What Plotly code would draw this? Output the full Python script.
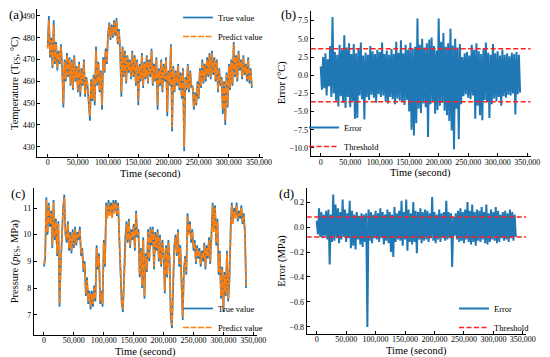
import plotly.graph_objects as go

# ---------------- data ----------------
time_s = [i * 2000 for i in range(170)]

temp_true = [
    476, 490, 471, 480, 466, 488, 468, 478, 465, 474,
    468, 477, 466, 448, 470, 460, 473, 462, 471, 458,
    470, 456, 472, 460, 467, 455, 469, 453, 466, 458,
    470, 453, 462, 458, 450, 442, 461, 451, 463, 449,
    476, 458, 469, 455, 465, 447, 471, 464, 475, 468,
    482, 487, 479, 486, 480, 488, 481, 489, 477, 484,
    474, 453, 476, 462, 474, 459, 472, 464, 470, 461,
    474, 462, 472, 458, 470, 449, 468, 460, 473, 457,
    469, 461, 472, 459, 470, 462, 475, 458, 468, 460,
    471, 447, 466, 458, 470, 455, 468, 460, 471, 444,
    465, 458, 477, 437, 467, 455, 465, 458, 468, 456,
    464, 452, 466, 428, 462, 456, 468, 455, 465, 457,
    458, 447, 455, 449, 460, 452, 466, 457, 470, 459,
    468, 460, 471, 462, 473, 461, 474, 463, 471, 460,
    470, 455, 466, 458, 462, 445, 460, 440, 464, 448,
    468, 456, 470, 458, 478, 462, 472, 460, 474, 465,
    470, 461, 472, 463, 468, 460, 471, 459, 466, 457,
]
temp_pred = [
    475, 488, 472, 479, 467, 486, 469, 477, 466, 473,
    469, 476, 467, 450, 469, 461, 472, 463, 470, 459,
    469, 457, 471, 461, 466, 456, 468, 455, 465, 459,
    469, 454, 461, 459, 451, 444, 460, 452, 462, 451,
    474, 459, 468, 456, 464, 449, 470, 465, 474, 469,
    481, 486, 480, 485, 481, 487, 482, 488, 478, 483,
    475, 455, 475, 463, 473, 460, 471, 465, 469, 462,
    473, 463, 471, 459, 469, 451, 467, 461, 472, 458,
    468, 462, 471, 460, 469, 463, 474, 459, 467, 461,
    470, 449, 465, 459, 469, 456, 467, 461, 470, 446,
    464, 459, 476, 439, 466, 456, 464, 459, 467, 457,
    463, 453, 465, 430, 461, 457, 467, 456, 464, 458,
    457, 448, 454, 450, 459, 453, 465, 458, 469, 460,
    467, 461, 470, 463, 472, 462, 473, 464, 470, 461,
    469, 456, 465, 459, 461, 447, 459, 442, 463, 449,
    467, 457, 469, 459, 477, 463, 471, 461, 473, 466,
    469, 462, 471, 464, 467, 461, 470, 460, 465, 458,
]
temp_err = [
    1.2, -2.0, 2.5, -1.8, 3.0, -2.8, 2.2, -1.5, 4.0, -3.0,
    8.0, -2.5, 3.2, -3.5, 2.8, -4.3, 4.2, -2.9, 3.5, -3.8,
    5.5, -4.5, 3.8, -3.0, 4.4, -4.4, 2.9, -3.6, 4.3, -6.0,
    3.0, -5.9, 3.6, -2.8, 4.5, -3.3, 2.7, -6.1, 3.1, -3.0,
    2.8, -3.4, 4.0, -2.7, 3.3, -3.1, 2.9, -3.8, 3.5, -2.6,
    3.2, -3.0, 4.5, -2.8, 2.9, -3.6, 3.4, -3.9, 2.8, -3.0,
    3.6, -3.3, 2.9, -4.0, 4.6, -3.2, 3.1, -3.5, 4.8, -3.7,
    3.0, -4.1, 4.2, -3.4, 3.5, -5.0, 4.5, -7.5, 3.6, -8.3,
    3.9, -6.6, 7.8, -4.6, 4.2, -5.2, 5.0, -3.9, 3.8, -4.4,
    4.4, -8.5, 4.9, -4.0, 5.2, -3.6, 4.0, -5.3, 3.4, -4.8,
    7.8, -4.2, 4.6, -3.8, 5.8, -4.9, 3.9, -5.5, 4.4, -6.3,
    6.4, -7.6, 4.1, -10.2, 5.0, -4.6, 3.8, -8.8, 4.3, -4.0,
    2.5, -2.9, 3.0, -2.6, 3.2, -3.1, 2.7, -3.3, 4.2, -2.8,
    3.5, -6.0, 4.4, -4.2, 3.3, -5.5, 2.9, -6.2, 3.7, -3.4,
    4.5, -3.6, 3.1, -5.9, 2.8, -4.0, 4.3, -3.2, 3.0, -3.6,
    3.3, -3.0, 2.7, -4.2, 3.5, -2.9, 2.8, -3.1, 3.0, -2.7,
    2.6, -2.8, 3.1, -2.5, 2.9, -5.4, 3.2, -2.6, 2.8, -2.4,
]
temp_threshold = [3.65, -3.65]

pres_true = [
    8.8, 9.1, 11.4, 10.0, 11.2, 10.3, 10.9, 9.5, 11.3, 9.8,
    10.6, 9.2, 10.5, 7.3, 8.8, 10.0, 11.0, 11.5, 10.0, 9.7,
    10.5, 9.4, 10.1, 9.3, 10.2, 9.5, 10.3, 9.6, 10.1, 9.8,
    10.3, 9.2, 9.5, 8.6, 9.0, 7.7, 8.4, 7.4, 7.9, 7.2,
    7.9, 7.3, 8.1, 7.5, 9.6, 8.7, 9.3, 7.4, 7.9, 7.3,
    9.8, 8.8, 11.2, 10.7, 11.3, 10.8, 11.2, 10.7, 11.3, 10.9,
    11.3, 10.7, 11.2, 9.8, 8.5, 7.4, 7.1, 8.6, 9.9, 10.5,
    9.7, 10.6, 9.5, 10.2, 9.8, 10.4, 9.4, 10.9, 9.9, 10.2,
    8.4, 9.5, 8.0, 9.9, 7.6, 9.3, 8.6, 10.2, 9.0, 10.3,
    9.6, 10.3, 8.7, 10.1, 9.4, 10.2, 9.0, 10.0, 8.8, 9.8,
    9.3, 7.8, 9.6, 8.4, 9.8, 9.1, 6.9, 6.5, 8.5, 9.6,
    10.0, 9.2, 10.2, 8.8, 9.6, 7.9, 6.8, 8.7, 9.2, 8.5,
    10.8, 10.1, 10.5, 9.7, 10.2, 9.4, 9.8, 8.9, 9.6, 9.1,
    9.5, 8.8, 9.4, 9.0, 9.7, 8.7, 9.6, 9.1, 9.9, 8.9,
    9.8, 11.2, 10.2, 11.1, 9.6, 10.6, 8.5, 9.4, 7.6, 8.8,
    7.1, 8.6, 7.7, 9.4, 7.5, 8.2, 10.2, 11.2, 10.5, 11.0,
    10.7, 11.2, 10.5, 10.9, 10.6, 11.1, 10.4, 10.8, 10.1, 8.0,
]
pres_pred = [
    8.9, 9.2, 11.3, 10.1, 11.1, 10.4, 10.8, 9.6, 11.2, 9.9,
    10.5, 9.3, 10.4, 7.4, 8.9, 10.0, 10.9, 11.4, 10.1, 9.8,
    10.4, 9.5, 10.0, 9.4, 10.1, 9.6, 10.2, 9.7, 10.0, 9.9,
    10.2, 9.3, 9.4, 8.7, 8.9, 7.8, 8.3, 7.5, 7.8, 7.3,
    7.8, 7.4, 8.0, 7.6, 9.5, 8.8, 9.2, 7.5, 7.8, 7.4,
    9.7, 8.9, 11.1, 10.6, 11.2, 10.7, 11.1, 10.6, 11.2, 10.8,
    11.2, 10.8, 11.1, 9.9, 8.6, 7.5, 7.2, 8.5, 9.8, 10.4,
    9.8, 10.5, 9.6, 10.1, 9.9, 10.3, 9.5, 10.8, 10.0, 10.1,
    8.5, 9.4, 8.1, 9.8, 7.7, 9.2, 8.7, 10.1, 9.1, 10.2,
    9.7, 10.2, 8.8, 10.0, 9.5, 10.1, 9.1, 9.9, 8.9, 9.7,
    9.4, 7.9, 9.5, 8.5, 9.7, 9.2, 7.0, 6.6, 8.4, 9.5,
    9.9, 9.3, 10.1, 8.9, 9.5, 8.0, 6.9, 8.6, 9.1, 8.6,
    10.7, 10.0, 10.4, 9.8, 10.1, 9.5, 9.7, 9.0, 9.5, 9.2,
    9.4, 8.9, 9.3, 9.1, 9.6, 8.8, 9.5, 9.2, 9.8, 9.0,
    9.7, 11.1, 10.1, 11.0, 9.7, 10.5, 8.6, 9.3, 7.7, 8.7,
    7.2, 8.5, 7.8, 9.3, 7.6, 8.3, 10.1, 11.1, 10.4, 10.9,
    10.6, 11.1, 10.6, 10.8, 10.7, 11.0, 10.5, 10.7, 10.0, 8.1,
]
pres_err = [
    0.05, -0.06, 0.15, -0.08, 0.12, -0.09, 0.10, -0.07, 0.13, -0.10,
    0.14, -0.30, 0.10, -0.12, 0.26, -0.11, 0.18, -0.09, 0.15, -0.13,
    0.12, -0.10, 0.22, -0.08, 0.14, -0.12, 0.11, -0.09, 0.21, -0.17,
    0.13, -0.15, 0.10, -0.18, 0.12, -0.10, 0.09, -0.14, 0.11, -0.16,
    0.10, -0.12, 0.11, -0.80, 0.14, -0.11, 0.12, -0.13, 0.10, -0.09,
    0.13, -0.10, 0.11, -0.12, 0.15, -0.09, 0.12, -0.14, 0.10, -0.11,
    0.14, -0.13, 0.12, -0.20, 0.10, -0.24, 0.16, -0.12, 0.11, -0.10,
    0.13, -0.11, 0.21, -0.15, 0.12, -0.10, 0.22, -0.19, 0.14, -0.12,
    0.11, -0.14, 0.20, -0.12, 0.13, -0.21, 0.12, -0.10, 0.15, -0.13,
    0.12, -0.11, 0.14, -0.10, 0.13, -0.12, 0.11, -0.09, 0.24, -0.11,
    0.12, -0.13, 0.10, -0.10, 0.14, -0.12, 0.11, -0.09, 0.12, -0.11,
    0.21, -0.10, 0.12, -0.09, 0.11, -0.32, 0.08, -0.07, 0.11, -0.10,
    0.13, -0.12, 0.15, -0.11, 0.12, -0.13, 0.14, -0.10, 0.20, -0.12,
    0.13, -0.14, 0.18, -0.12, 0.12, -0.15, 0.14, -0.11, 0.13, -0.12,
    0.16, -0.10, 0.12, -0.13, 0.18, -0.14, 0.11, -0.12, 0.14, -0.10,
    0.12, -0.11, 0.16, -0.13, 0.13, -0.12, 0.10, -0.09, 0.12, -0.11,
    0.13, -0.10, 0.11, -0.12, 0.14, -0.09, 0.12, -0.11, 0.10, -0.08,
]
pres_threshold = [0.08, -0.08]

x_ticks = [0, 50000, 100000, 150000, 200000, 250000, 300000, 350000]
x_range = [-17000, 356000]

# ---------------- styling ----------------
W, H = 550, 357
BLUE = "#1f77b4"
ORANGE = "#ff7f0e"
RED = "#ff2020"
FONT = "Liberation Serif"
DASH_PRED = "6px,1.5px"
DASH_THR = "5px,2.5px"


def dx(px):
    return px / W


def dy(py):
    return 1 - py / H


fig = go.Figure()

# (a)
fig.add_trace(go.Scatter(x=time_s, y=temp_true, mode="lines", name="True value",
                         line=dict(color=BLUE, width=1.7), xaxis="x", yaxis="y", legend="legend"))
fig.add_trace(go.Scatter(x=time_s, y=temp_pred, mode="lines", name="Predict value",
                         line=dict(color=ORANGE, width=1.7, dash=DASH_PRED), xaxis="x", yaxis="y",
                         legend="legend"))
# (b)
fig.add_trace(go.Scatter(x=time_s, y=temp_err, mode="lines", name="Error",
                         line=dict(color=BLUE, width=2.0), xaxis="x2", yaxis="y2", legend="legend2"))
fig.add_trace(go.Scatter(x=x_range, y=[temp_threshold[0]] * 2, mode="lines", name="Threshold",
                         line=dict(color=RED, width=1.5, dash=DASH_THR), xaxis="x2", yaxis="y2",
                         legend="legend2"))
fig.add_trace(go.Scatter(x=x_range, y=[temp_threshold[1]] * 2, mode="lines", name="Threshold",
                         line=dict(color=RED, width=1.5, dash=DASH_THR), xaxis="x2", yaxis="y2",
                         showlegend=False))
# (c)
fig.add_trace(go.Scatter(x=time_s, y=pres_true, mode="lines", name="True value",
                         line=dict(color=BLUE, width=1.7), xaxis="x3", yaxis="y3", legend="legend3"))
fig.add_trace(go.Scatter(x=time_s, y=pres_pred, mode="lines", name="Predict value",
                         line=dict(color=ORANGE, width=1.7, dash=DASH_PRED), xaxis="x3", yaxis="y3",
                         legend="legend3"))
# (d)
fig.add_trace(go.Scatter(x=time_s, y=pres_err, mode="lines", name="Error",
                         line=dict(color=BLUE, width=2.0), xaxis="x4", yaxis="y4", legend="legend4"))
fig.add_trace(go.Scatter(x=x_range, y=[pres_threshold[0]] * 2, mode="lines", name="Threshold",
                         line=dict(color=RED, width=1.5, dash=DASH_THR), xaxis="x4", yaxis="y4",
                         legend="legend4"))
fig.add_trace(go.Scatter(x=x_range, y=[pres_threshold[1]] * 2, mode="lines", name="Threshold",
                         line=dict(color=RED, width=1.5, dash=DASH_THR), xaxis="x4", yaxis="y4",
                         showlegend=False))

# axis pixel boxes: (left, right, top, bottom)
boxes = {
    "a": (37.4, 262.7, 9.2, 156.8),
    "b": (310.7, 530.7, 10.5, 155.9),
    "c": (33.8, 256.9, 188.0, 334.7),
    "d": (306.7, 526.4, 187.9, 333.6),
}


def xaxis(b, anchor):
    return dict(domain=[dx(b[0]), dx(b[1])], anchor=anchor, range=x_range,
                tickvals=x_ticks, tickformat=",d", tickangle=0, showline=True, linecolor="black",
                linewidth=1, ticks="inside", ticklen=3, tickcolor="black", showgrid=False,
                zeroline=False, automargin=False, ticklabelstandoff=-2,
                tickfont=dict(family=FONT, size=8, color="black"))


def yaxis(b, anchor, rng, dtick, fmt):
    return dict(domain=[dy(b[3]), dy(b[2])], anchor=anchor, range=rng, dtick=dtick,
                tickformat=fmt, showline=True, linecolor="black", linewidth=1,
                ticks="inside", ticklen=3, tickcolor="black", showgrid=False, zeroline=False,
                automargin=False,
                tickfont=dict(family=FONT, size=8, color="black"))


def legend(x, y):
    return dict(x=dx(x), y=dy(y), xanchor="left", yanchor="middle", bgcolor="rgba(0,0,0,0)",
                font=dict(family=FONT, size=8.5, color="black"), itemwidth=30,
                tracegroupgap=0)


title_font = dict(family=FONT, size=10.5, color="black")
annotations = []
# x-axis titles
for k in "abcd":
    b = boxes[k]
    annotations.append(dict(text="Time (second)", x=dx((b[0] + b[1]) / 2), y=dy(b[3] + 17.0),
                            xref="paper", yref="paper", showarrow=False, xanchor="center",
                            yanchor="middle", font=title_font))
# y-axis titles
for k, txt, px in [("a", "Temperature (T<sub>FS</sub>, °C)", 15),
                   ("b", "Error (°C)", 282),
                   ("c", "Pressure (<i>p</i><sub>FS</sub>, MPa)", 15),
                   ("d", "Error (MPa)", 282)]:
    b = boxes[k]
    annotations.append(dict(text=txt, x=dx(px), y=dy((b[2] + b[3]) / 2), xref="paper",
                            yref="paper", showarrow=False, xanchor="center", yanchor="middle",
                            textangle=-90, font=title_font))
# panel labels
for t, px, py in [("(a)", 7, 15), ("(b)", 279, 15), ("(c)", 9, 193), ("(d)", 277, 193)]:
    annotations.append(dict(text=t, x=dx(px), y=dy(py), xref="paper", yref="paper",
                            showarrow=False, xanchor="left", yanchor="middle",
                            font=dict(family=FONT, size=13, color="black")))

fig.update_layout(
    width=W, height=H, margin=dict(l=0, r=0, t=0, b=0),
    paper_bgcolor="white", plot_bgcolor="rgba(0,0,0,0)",
    xaxis=xaxis(boxes["a"], "y"),
    yaxis=yaxis(boxes["a"], "x", [425.4, 493.1], 10, "d"),
    xaxis2=xaxis(boxes["b"], "y2"),
    yaxis2=yaxis(boxes["b"], "x2", [-11.1, 8.9], 2.5, ".1f"),
    xaxis3=xaxis(boxes["c"], "y3"),
    yaxis3=yaxis(boxes["c"], "x3", [6.25, 11.75], 1, "d"),
    xaxis4=xaxis(boxes["d"], "y4"),
    yaxis4=yaxis(boxes["d"], "x4", [-0.853, 0.313], 0.2, ".1f"),
    legend=legend(178, 27),
    legend2=legend(304, 137),
    legend3=legend(178, 318),
    legend4=legend(454, 318),
    annotations=annotations,
)

fig.write_html("out.html", config={"displayModeBar": False},
               post_script="document.body.style.margin='0px';")
